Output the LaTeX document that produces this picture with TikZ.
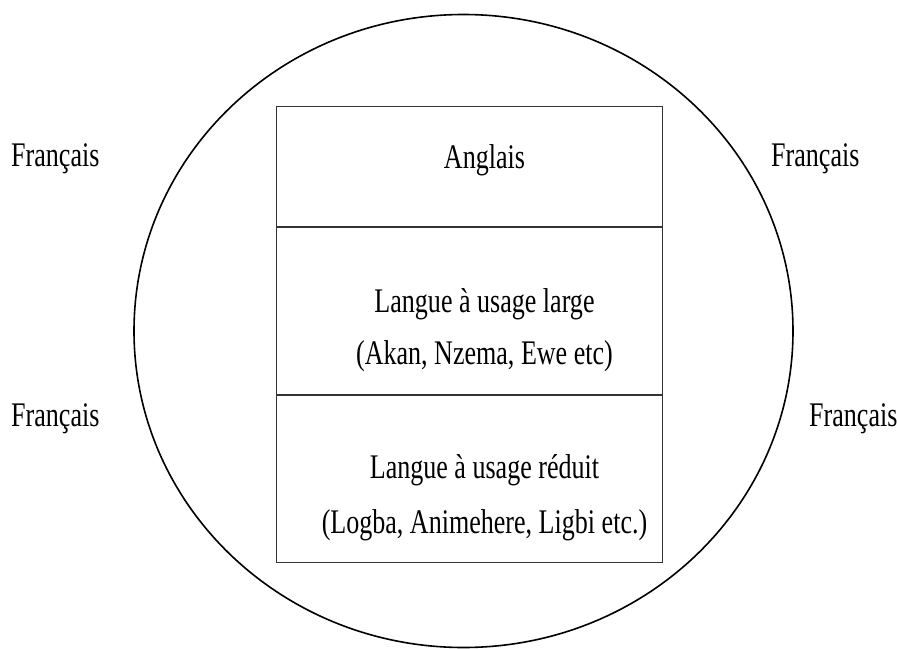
\documentclass[tikz,border=0pt]{standalone}
\usepackage{fontspec}
\setmainfont{Liberation Serif}[FakeStretch=0.755]
\usepackage{tikz}
\usetikzlibrary{positioning, shapes.geometric}
\tikzset{
    cell/.style={rectangle, draw=black!80, line width=1pt, minimum width=386pt, inner sep=0pt},
    lang/.style={anchor=base, inner sep=0pt, font=\fontsize{34.5}{40}\selectfont},
    ring/.style={ellipse, draw=black, line width=1.6pt, minimum width=659pt, minimum height=633pt, inner sep=0pt}
}

\begin{document}
\begin{tikzpicture}[x=1pt, y=-1pt]
    \useasboundingbox (0, 0) rectangle (897, 648);
    \begin{scope}
    \clip (0, 0) rectangle (897, 648);

    % Outer circle
    \node[ring] (world) at (463.5, 331) {};

    % Stacked cells
    \node[cell, minimum height=120.3pt, anchor=north west] (top) at (275.7, 105.7) {};
    \node[cell, minimum height=167pt, anchor=north] (mid) at (top.south) {};
    \node[cell, minimum height=167pt, anchor=north] (low) at (mid.south) {};
    \end{scope}

    % Cell texts
    \node[lang] (en) at (484.5, 168) {Anglais};
    \node[lang] (large) at (484.5, 312.7) {Langue à usage large};
    \node[lang] (largeEx) at (484.5, 364.5) {(Akan, Nzema, Ewe etc)};
    \node[lang] (small) at (484.5, 478) {Langue à usage réduit};
    \node[lang] (smallEx) at (484.5, 533) {(Logba, Animehere, Ligbi etc.)};

    % French all around
    \node[lang, anchor=base west] (frNW) at (11, 166) {Français};
    \node[lang, anchor=base west] (frNE) at (771, 166) {Français};
    \node[lang, anchor=base west] (frSW) at (11, 426) {Français};
    \node[lang, anchor=base west] (frSE) at (809, 426) {Français};
\end{tikzpicture}
\end{document}
